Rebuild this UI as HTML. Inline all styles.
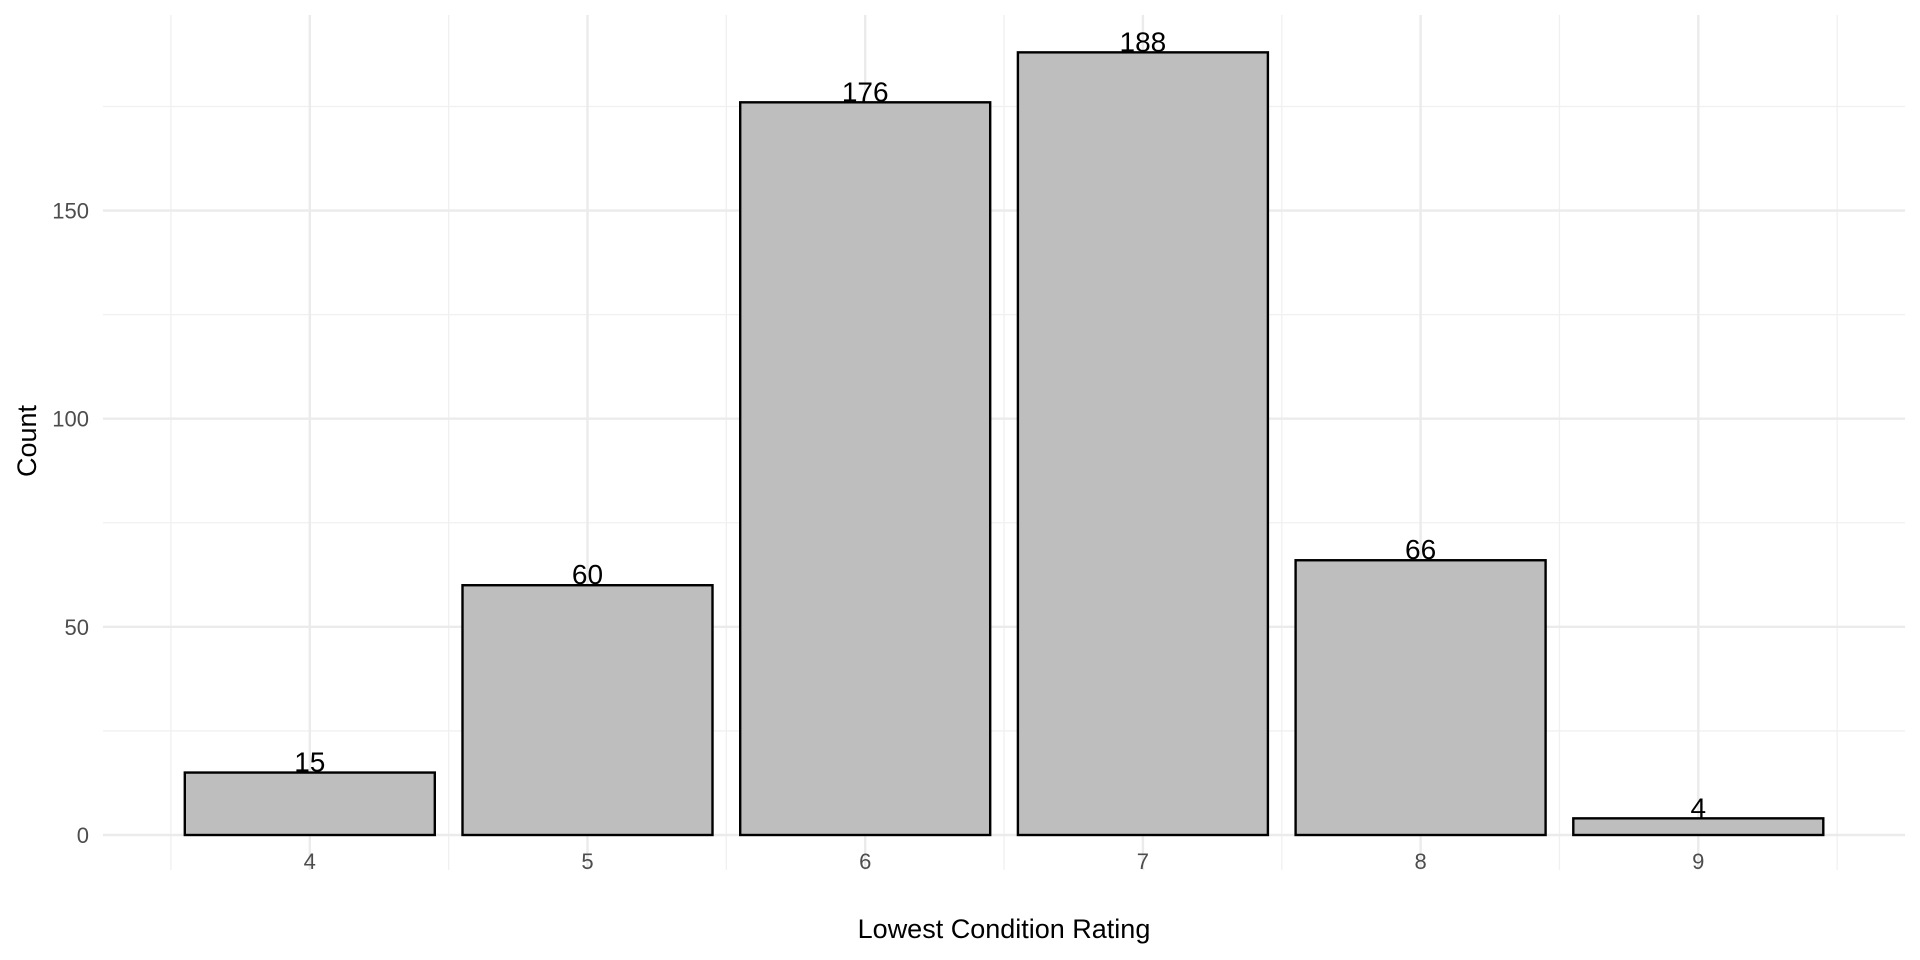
<!DOCTYPE html>
<html><head><meta charset="utf-8"><style>
html,body{margin:0;padding:0;background:#fff;}
svg{display:block;font-family:"Liberation Sans",sans-serif;}
</style></head><body>
<svg id="chart" width="1920" height="960" viewBox="0 0 1920 960" xmlns="http://www.w3.org/2000/svg">
<g id="grid"></g>
<g id="bars"></g>
<g id="axes"></g>
<text x="1004" y="938" font-size="27" text-anchor="middle" fill="#000">Lowest Condition Rating</text>
<text x="0" y="0" font-size="27" text-anchor="middle" fill="#000" transform="translate(36,441) rotate(-90)">Count</text>
</svg>
<script>
const categories = ["4","5","6","7","8","9"];
const counts = [15, 60, 176, 188, 66, 4];
const yTicks = [0, 50, 100, 150];
const yMinor = [25, 75, 125, 175];

const NS = "http://www.w3.org/2000/svg";
const panelLeft = 103, panelRight = 1905, panelTop = 15, panelBottom = 870;
const y0 = 835, pxPerUnit = 4.163;
const x0 = 309.8, step = 277.7, barW = 250;
function yScale(v){ return y0 - v * pxPerUnit; }
function xScale(i){ return x0 + i * step; }
function mk(tag, attrs, parent){ const e = document.createElementNS(NS, tag); for (const k in attrs) e.setAttribute(k, attrs[k]); parent.appendChild(e); return e; }
const grid = document.getElementById('grid'), bars = document.getElementById('bars'), axes = document.getElementById('axes');

yMinor.forEach(v => {
  const l = mk('line', {x1:panelLeft, x2:panelRight, y1:yScale(v), y2:yScale(v), stroke:'#f0f0f0', 'stroke-width':1.3}, grid);
  
  
});
for (let i = 0; i <= categories.length; i++) {
  const x = xScale(i - 0.5);
  const l = mk('line', {x1:x, x2:x, y1:panelTop, y2:panelBottom, stroke:'#f0f0f0', 'stroke-width':1.3}, grid);
  
  
}
yTicks.forEach(v => {
  const l = mk('line', {x1:panelLeft, x2:panelRight, y1:yScale(v), y2:yScale(v), stroke:'#ebebeb', 'stroke-width':2.4}, grid);
  
  
  const t = mk('text', {x:89, y:yScale(v)+8, 'font-size':22, 'text-anchor':'end', fill:'#4d4d4d'}, axes);
  t.textContent = v;
  
  
});
categories.forEach((c, i) => {
  const x = xScale(i);
  const l = mk('line', {x1:x, x2:x, y1:panelTop, y2:panelBottom, stroke:'#ebebeb', 'stroke-width':2.4}, grid);
  
  
  const t = mk('text', {x:x, y:869, 'font-size':22, 'text-anchor':'middle', fill:'#4d4d4d'}, axes);
  t.textContent = c;
  
  
  const v = counts[i];
  const r = mk('rect', {x:x-barW/2, y:yScale(v), width:barW, height:y0-yScale(v), fill:'#bebebe', stroke:'#000', 'stroke-width':2.4}, bars);
  
  
  const lb = mk('text', {x:x, y:yScale(v)-1, 'font-size':28, 'text-anchor':'middle', fill:'#000'}, bars);
  lb.textContent = v;
  
  
});
</script>
</body></html>
